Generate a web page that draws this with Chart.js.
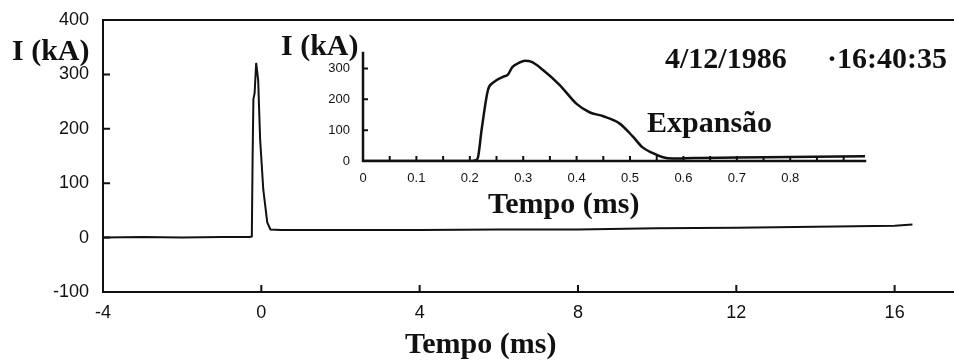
<!DOCTYPE html>
<html>
<head>
<meta charset="utf-8">
<script src="https://cdn.jsdelivr.net/npm/chart.js@4/dist/chart.umd.min.js"></script>
<style>
  html, body { margin: 0; padding: 0; background: #fff; overflow: hidden; }
  #wrap { position: relative; width: 954px; height: 362px; }
  canvas { position: absolute; }
  #main { left: 0; top: 0; }
  #inset { left: 300px; top: 40px; }
  .lbl { position: absolute; font-family: "Liberation Serif", "Times New Roman", serif; font-weight: bold;
         font-size: 30px; line-height: 30px; color: #111; white-space: nowrap; }
</style>
</head>
<body>
<div id="wrap">
  <canvas id="main" width="954" height="362"></canvas>
  <canvas id="inset" width="580" height="150"></canvas>
  <div class="lbl" style="left:12px; top:35px;">I (kA)</div>
  <div class="lbl" style="left:281px; top:30px;">I (kA)</div>
  <div class="lbl" style="left:665px; top:43px;">4/12/1986</div>
  <div class="lbl" style="left:827px; top:43px;">·16:40:35</div>
  <div class="lbl" style="left:647px; top:107px;">Expansão</div>
  <div class="lbl" style="left:488px; top:188px;">Tempo (ms)</div>
  <div class="lbl" style="left:405px; top:328px;">Tempo (ms)</div>
</div>
<script>
// ---- Main trace: current (kA) vs time (ms)
const mainTime    = [-4, -3, -2, -1, -0.3, -0.24, -0.22, -0.2, -0.17, -0.13, -0.08, -0.03, 0.05, 0.15, 0.23, 0.5, 2, 4, 6, 8, 10, 12, 14, 16, 16.45];
const mainCurrent = [0, 1, 0, 1, 1, 2, 150, 255, 265, 321, 290, 180, 88, 28, 15, 14, 14, 14, 15, 15, 17, 18, 20, 22, 24];
const mainXTicks  = [-4, 0, 4, 8, 12, 16];
const mainYTicks  = [-100, 0, 100, 200, 300, 400];

// ---- Inset trace: zoom on first millisecond
const insetTime    = [0, 0.1, 0.2, 0.21, 0.215, 0.222, 0.234, 0.243, 0.262, 0.271, 0.28, 0.292, 0.303, 0.316, 0.337, 0.368, 0.4, 0.424, 0.45, 0.48, 0.505, 0.523, 0.542, 0.56, 0.58, 0.62, 0.7, 0.8, 0.94];
const insetCurrent = [0, 0, 0, 2, 10, 100, 230, 253, 273, 279, 305, 318, 325, 321, 295, 247, 185, 158, 145, 122, 80, 45, 26, 13, 8, 10, 11, 13, 15];
const insetXLabels = [0, 0.1, 0.2, 0.3, 0.4, 0.5, 0.6, 0.7, 0.8];
const insetYTicks  = [0, 100, 200, 300];

const INK = '#111';

function axesPlugin(opts) {
  return {
    id: 'axesPlugin',
    afterDraw(chart) {
      const ctx = chart.ctx, a = chart.chartArea;
      const xs = chart.scales.x, ys = chart.scales.y;
      ctx.save();
      ctx.strokeStyle = INK;
      ctx.lineWidth = opts.axisWidth;
      ctx.lineCap = 'square';
      ctx.beginPath();
      ctx.moveTo(a.left, a.top);
      ctx.lineTo(a.left, a.bottom);
      ctx.lineTo(a.right, a.bottom);
      if (opts.topBorder) { ctx.moveTo(a.left, a.top); ctx.lineTo(a.right, a.top); }
      ctx.stroke();
      ctx.lineWidth = opts.tickWidth;
      ctx.beginPath();
      xs.ticks.forEach(t => {
        const p = xs.getPixelForValue(t.value);
        ctx.moveTo(p, a.bottom); ctx.lineTo(p, a.bottom - opts.tickLen);
      });
      ys.ticks.forEach(t => {
        const p = ys.getPixelForValue(t.value);
        ctx.moveTo(a.left, p); ctx.lineTo(a.left + opts.tickLen, p);
      });
      ctx.stroke();
      ctx.restore();
    }
  };
}

new Chart(document.getElementById('main'), {
  type: 'line',
  data: {
    datasets: [{
      data: mainTime.map((t, i) => ({ x: t, y: mainCurrent[i] })),
      borderColor: INK, borderWidth: 2, pointRadius: 0, tension: 0, fill: false
    }]
  },
  options: {
    responsive: false, animation: false,
    layout: { padding: { top: 20, right: 0, left: 0, bottom: 0 } },
    plugins: { legend: { display: false }, tooltip: { enabled: false } },
    scales: {
      x: {
        type: 'linear', min: -4, max: 17.5,
        afterBuildTicks: s => { s.ticks = mainXTicks.map(v => ({ value: v })); },
        afterFit: s => { s.height = 70; },
        grid: { display: false }, border: { display: false },
        ticks: { autoSkip: false, maxRotation: 0, padding: 2, color: INK,
                 font: { family: 'Liberation Sans, Arial', size: 18 } }
      },
      y: {
        min: -100, max: 400,
        afterBuildTicks: s => { s.ticks = mainYTicks.map(v => ({ value: v })); },
        afterFit: s => { s.width = 103; },
        grid: { display: false }, border: { display: false },
        ticks: { padding: 6, color: INK, font: { family: 'Liberation Sans, Arial', size: 18 } }
      }
    }
  },
  plugins: [axesPlugin({ axisWidth: 2, tickWidth: 2, tickLen: 6, topBorder: true })]
});

new Chart(document.getElementById('inset'), {
  type: 'line',
  data: {
    datasets: [{
      data: insetTime.map((t, i) => ({ x: t, y: insetCurrent[i] })),
      borderColor: INK, borderWidth: 2.5, pointRadius: 0, cubicInterpolationMode: 'monotone', fill: false
    }]
  },
  options: {
    responsive: false, animation: false,
    layout: { padding: { top: 13, right: 15, left: 0, bottom: 0 } },
    plugins: { legend: { display: false }, tooltip: { enabled: false } },
    scales: {
      x: {
        type: 'linear', min: 0, max: 0.94,
        afterBuildTicks: s => {
          const t = [];
          for (let k = 0; k <= 18; k++) t.push({ value: k * 0.05 });
          s.ticks = t;
        },
        afterFit: s => { s.height = 29; },
        grid: { display: false }, border: { display: false },
        ticks: {
          autoSkip: false, maxRotation: 0, padding: 2, color: INK,
          font: { family: 'Liberation Sans, Arial', size: 13 },
          callback: v => {
            const hit = insetXLabels.find(l => Math.abs(l - v) < 1e-6);
            return hit === undefined ? '' : String(hit);
          }
        }
      },
      y: {
        min: 0, max: 350,
        afterBuildTicks: s => { s.ticks = insetYTicks.map(v => ({ value: v })); },
        afterFit: s => { s.width = 63; },
        grid: { display: false }, border: { display: false },
        ticks: { padding: 5, color: INK, font: { family: 'Liberation Sans, Arial', size: 13 } }
      }
    }
  },
  plugins: [axesPlugin({ axisWidth: 2.5, tickWidth: 2, tickLen: 4, topBorder: false })]
});
</script>
</body>
</html>
